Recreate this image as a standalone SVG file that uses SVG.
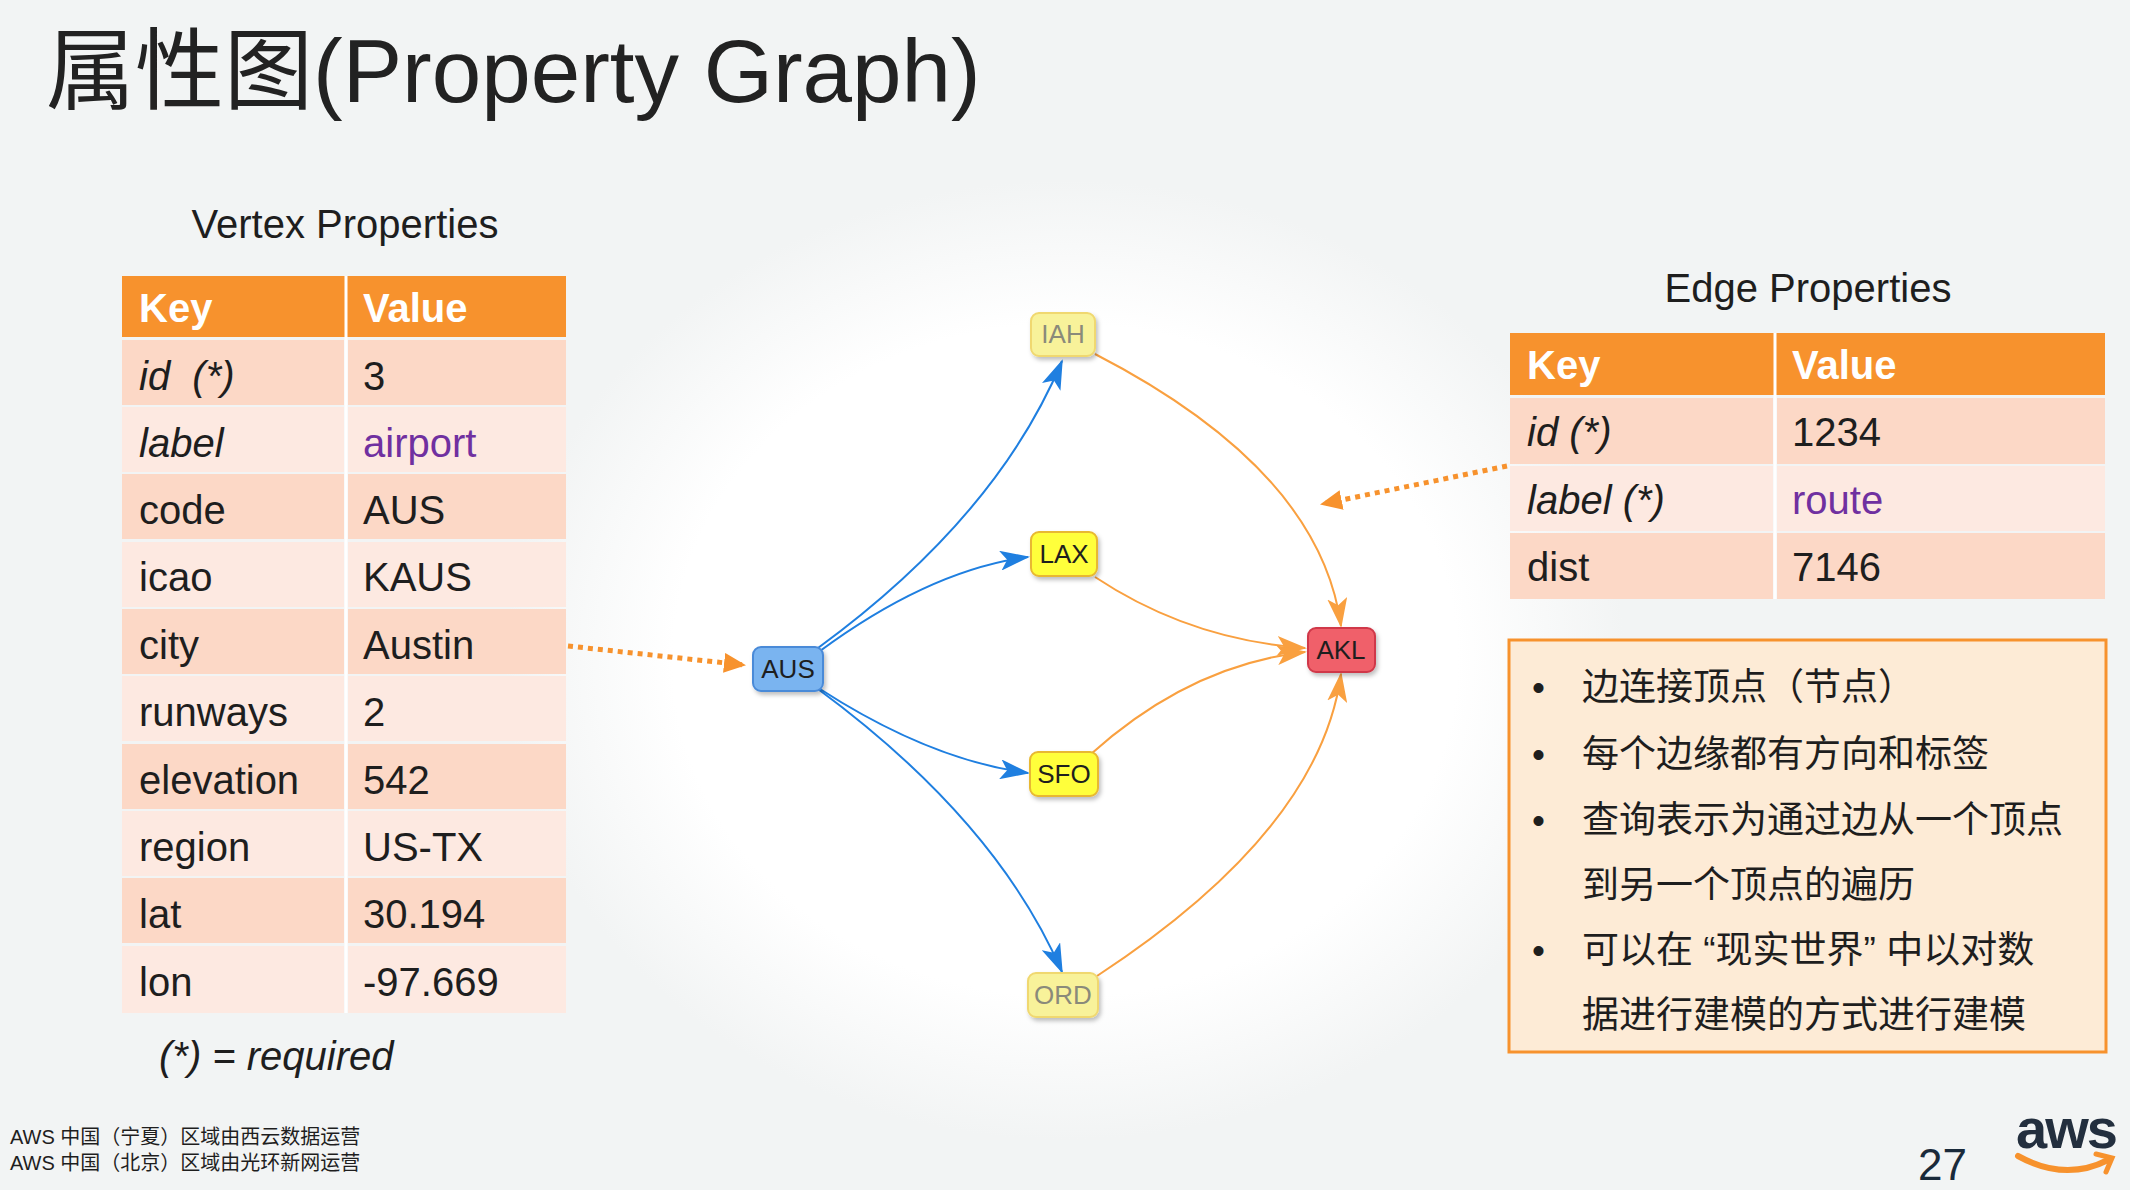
<svg xmlns="http://www.w3.org/2000/svg" width="2130" height="1190" viewBox="0 0 2130 1190">
<style>
text{font-family:"Liberation Sans","Noto Sans CJK SC",sans-serif;fill:#1e1e1e}
.t{font-size:40px}
.h{font-size:40px;font-weight:bold;fill:#fff}
.i{font-style:italic}
.p{fill:#7030a0}
.hd{fill:#f7922d}
.d{fill:#fcd8c6}
.l{fill:#fde9e1}
.cn{font-size:37px}
.nt{font-size:26px;text-anchor:middle}
.bl{stroke:#1f7fe0;stroke-width:2;fill:none;marker-end:url(#ab)}
.or{stroke:#f9a040;stroke-width:2;fill:none;marker-end:url(#ao)}
.dot{stroke:#f7922d;stroke-width:5;stroke-dasharray:5 5;fill:none;marker-end:url(#ad)}
</style>
<defs>
<radialGradient id="glow" cx="0.5" cy="0.5" r="0.5"><stop offset="0" stop-color="#fff"/><stop offset="0.7" stop-color="#fff"/><stop offset="1" stop-color="#f2f4f4"/></radialGradient>
<marker id="ab" markerUnits="userSpaceOnUse" markerWidth="30" markerHeight="20" refX="28" refY="10" orient="auto"><path d="M0,0 L30,10 L0,20 L7,10 Z" fill="#1f7fe0"/></marker>
<marker id="ao" markerUnits="userSpaceOnUse" markerWidth="30" markerHeight="20" refX="28" refY="10" orient="auto"><path d="M0,0 L30,10 L0,20 L7,10 Z" fill="#f9a040"/></marker>
<marker id="ad" markerUnits="userSpaceOnUse" markerWidth="22" markerHeight="20" refX="20" refY="10" orient="auto"><path d="M0,0 L22,10 L0,20 Z" fill="#f7922d"/></marker>
<filter id="sh" x="-20%" y="-20%" width="150%" height="160%"><feDropShadow dx="2" dy="3" stdDeviation="2" flood-color="#000" flood-opacity="0.25"/></filter>
</defs>
<rect width="2130" height="1190" fill="#f2f4f4"/>
<ellipse cx="1065" cy="660" rx="560" ry="480" fill="url(#glow)"/>
<text x="46" y="102" style="font-size:89px;fill:#222">属性图(Property Graph)</text>

<g id="vertex-table">
<text x="345" y="238" class="t" text-anchor="middle">Vertex Properties</text>
<rect x="122" y="276" width="444" height="61" class="hd"/>
<line x1="346" y1="276" x2="346" y2="1013" stroke="#fff" stroke-width="3"/>
<rect x="122" y="340" width="222" height="65" class="d"/><rect x="348" y="340" width="218" height="65" class="d"/>
<rect x="122" y="407" width="222" height="65" class="l"/><rect x="348" y="407" width="218" height="65" class="l"/>
<rect x="122" y="474" width="222" height="65" class="d"/><rect x="348" y="474" width="218" height="65" class="d"/>
<rect x="122" y="542" width="222" height="65" class="l"/><rect x="348" y="542" width="218" height="65" class="l"/>
<rect x="122" y="609" width="222" height="65" class="d"/><rect x="348" y="609" width="218" height="65" class="d"/>
<rect x="122" y="676" width="222" height="65" class="l"/><rect x="348" y="676" width="218" height="65" class="l"/>
<rect x="122" y="744" width="222" height="65" class="d"/><rect x="348" y="744" width="218" height="65" class="d"/>
<rect x="122" y="811" width="222" height="65" class="l"/><rect x="348" y="811" width="218" height="65" class="l"/>
<rect x="122" y="878" width="222" height="65" class="d"/><rect x="348" y="878" width="218" height="65" class="d"/>
<rect x="122" y="946" width="222" height="67" class="l"/><rect x="348" y="946" width="218" height="67" class="l"/>
<text x="139" y="322" class="h">Key</text><text x="363" y="322" class="h">Value</text>
<text x="139" y="390" class="t i">id &#160;(*)</text><text x="363" y="390" class="t">3</text>
<text x="139" y="457" class="t i">label</text><text x="363" y="457" class="t p">airport</text>
<text x="139" y="524" class="t">code</text><text x="363" y="524" class="t">AUS</text>
<text x="139" y="591" class="t">icao</text><text x="363" y="591" class="t">KAUS</text>
<text x="139" y="659" class="t">city</text><text x="363" y="659" class="t">Austin</text>
<text x="139" y="726" class="t">runways</text><text x="363" y="726" class="t">2</text>
<text x="139" y="794" class="t">elevation</text><text x="363" y="794" class="t">542</text>
<text x="139" y="861" class="t">region</text><text x="363" y="861" class="t">US-TX</text>
<text x="139" y="928" class="t">lat</text><text x="363" y="928" class="t">30.194</text>
<text x="139" y="996" class="t">lon</text><text x="363" y="996" class="t">-97.669</text>
<text x="159" y="1070" class="t i">(*) = required</text>
</g>

<g id="edge-table">
<text x="1808" y="302" class="t" text-anchor="middle">Edge Properties</text>
<rect x="1510" y="333" width="595" height="62" class="hd"/>
<line x1="1775" y1="333" x2="1775" y2="599" stroke="#fff" stroke-width="3"/>
<rect x="1510" y="398" width="263" height="66" class="d"/><rect x="1777" y="398" width="328" height="66" class="d"/>
<rect x="1510" y="466" width="263" height="65" class="l"/><rect x="1777" y="466" width="328" height="65" class="l"/>
<rect x="1510" y="533" width="263" height="66" class="d"/><rect x="1777" y="533" width="328" height="66" class="d"/>
<text x="1527" y="379" class="h">Key</text><text x="1792" y="379" class="h">Value</text>
<text x="1527" y="446" class="t i">id (*)</text><text x="1792" y="446" class="t">1234</text>
<text x="1527" y="514" class="t i">label (*)</text><text x="1792" y="514" class="t p">route</text>
<text x="1527" y="581" class="t">dist</text><text x="1792" y="581" class="t">7146</text>
</g>

<g id="notes">
<rect x="1509" y="640" width="597" height="412" fill="#fdebd6" stroke="#f7922d" stroke-width="3"/>
<text x="1532" y="700" class="cn">•</text><text x="1582" y="700" class="cn">边连接顶点（节点）</text>
<text x="1532" y="767" class="cn">•</text><text x="1582" y="767" class="cn">每个边缘都有方向和标签</text>
<text x="1532" y="833" class="cn">•</text><text x="1582" y="833" class="cn">查询表示为通过边从一个顶点</text>
<text x="1582" y="898" class="cn">到另一个顶点的遍历</text>
<text x="1532" y="963" class="cn">•</text><text x="1582" y="963" class="cn">可以在 “现实世界” 中以对数</text>
<text x="1582" y="1028" class="cn">据进行建模的方式进行建模</text>
</g>

<g id="connectors">
<path class="dot" d="M568,646 L744,665"/>
<path class="dot" d="M1507,466 L1322,504"/>
<path class="bl" d="M818,648 Q997,517 1062,361"/>
<path class="bl" d="M820,651 Q930,570 1028,557"/>
<path class="bl" d="M820,689 Q930,760 1028,773"/>
<path class="bl" d="M818,689 Q997,821 1062,972"/>
<path class="or" d="M1095,354 Q1320,470 1341,626"/>
<path class="or" d="M1095,577 Q1190,640 1305,648"/>
<path class="or" d="M1091,754 Q1190,665 1305,652"/>
<path class="or" d="M1097,976 Q1320,830 1341,674"/>
</g>

<g id="node-IAH"><rect x="1031" y="313" width="64" height="43" rx="8" fill="#f8f29a" stroke="#f0d870" stroke-width="2" filter="url(#sh)"/><text x="1063" y="343" class="nt" style="fill:#8a8a7a">IAH</text></g>
<g id="node-LAX"><rect x="1031" y="532" width="66" height="44" rx="8" fill="#ffff3a" stroke="#e8b830" stroke-width="2" filter="url(#sh)"/><text x="1064" y="563" class="nt">LAX</text></g>
<g id="node-AUS"><rect x="753" y="647" width="70" height="44" rx="8" fill="#7ab4f0" stroke="#4a8ad8" stroke-width="2" filter="url(#sh)"/><text x="788" y="678" class="nt">AUS</text></g>
<g id="node-SFO"><rect x="1030" y="752" width="68" height="44" rx="8" fill="#ffff3a" stroke="#e8b830" stroke-width="2" filter="url(#sh)"/><text x="1064" y="783" class="nt">SFO</text></g>
<g id="node-ORD"><rect x="1028" y="973" width="70" height="44" rx="8" fill="#f8f29a" stroke="#f0d870" stroke-width="2" filter="url(#sh)"/><text x="1063" y="1004" class="nt" style="fill:#8a8a7a">ORD</text></g>
<g id="node-AKL"><rect x="1308" y="628" width="67" height="44" rx="8" fill="#f0606a" stroke="#d03848" stroke-width="2" filter="url(#sh)"/><text x="1341" y="659" class="nt">AKL</text></g>

<g id="footer">
<text x="10" y="1144" style="font-size:20px">AWS 中国（宁夏）区域由西云数据运营</text>
<text x="10" y="1170" style="font-size:20px">AWS 中国（北京）区域由光环新网运营</text>
<text x="1918" y="1180" style="font-size:44px;fill:#1a2a3a">27</text>
<text x="2016" y="1148" style="font-size:56px;font-weight:bold;fill:#232f3e;letter-spacing:-2px">aws</text>
<path d="M2018,1156 Q2065,1182 2108,1160" stroke="#f7922d" stroke-width="6" fill="none" stroke-linecap="round"/>
<path d="M2096,1154 L2112,1158 L2106,1172" stroke="#f7922d" stroke-width="5" fill="none" stroke-linecap="round"/>
</g>
</svg>
